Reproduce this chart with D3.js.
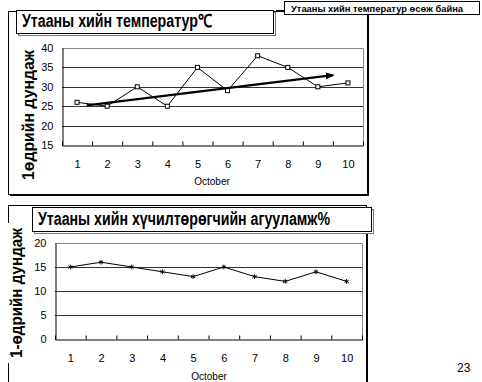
<!DOCTYPE html>
<html>
<head>
<meta charset="utf-8">
<script src="https://cdn.jsdelivr.net/npm/d3@7"></script>
<style>
  body { margin: 0; background: #fff; }
  svg { display: block; font-family: "Liberation Sans", Arial, sans-serif; }
</style>
</head>
<body>
<svg width="482" height="382"></svg>
<script>
var days = [1, 2, 3, 4, 5, 6, 7, 8, 9, 10];
var temperature = [26, 25, 30, 25, 35, 29, 38, 35, 30, 31];
var oxygen = [15, 16, 15, 14, 13, 15, 13, 12, 14, 12];
var tempTicks = [15, 20, 25, 30, 35, 40];
var oxyTicks = [0, 5, 10, 15, 20];
// hand-drawn trend arrow (day, value)
var trendFrom = [1.32, 25.2];
var trendTo = [9.5, 33.0];

var svg = d3.select('svg');

svg.append('defs').append('marker')
    .attr('id', 'arrow')
    .attr('viewBox', '0 0 10 10')
    .attr('refX', 8).attr('refY', 5)
    .attr('markerWidth', 4).attr('markerHeight', 4)
    .attr('orient', 'auto')
  .append('path')
    .attr('d', 'M0,1 L10,5 L0,9 Z')
    .attr('fill', '#000');

function frame(x0, y0, x1, y1) {
  svg.append('rect')
      .attr('x', x0 + 0.5).attr('y', y0 + 0.5)
      .attr('width', x1 - x0).attr('height', y1 - y0)
      .attr('fill', '#fff').attr('stroke', '#000');
  svg.append('path')
      .attr('d', 'M' + (x1 + 1.5) + ',' + (y0 + 2) + 'V' + (y1 + 1.5) + 'H' + (x0 + 2))
      .attr('fill', 'none').attr('stroke', '#000');
}

function titleBox(x0, y0, x1, y1, label, size, len) {
  svg.append('rect')
      .attr('x', x0 + 2.5).attr('y', y0 + 2.5)
      .attr('width', x1 - x0).attr('height', y1 - y0)
      .attr('fill', '#fff').attr('stroke', '#777');
  svg.append('rect')
      .attr('x', x0 + 0.5).attr('y', y0 + 0.5)
      .attr('width', x1 - x0).attr('height', y1 - y0)
      .attr('fill', '#fff').attr('stroke', '#000');
  svg.append('text')
      .attr('x', x0 + 6).attr('y', y1 - 6)
      .attr('font-size', size).attr('font-weight', 'bold')
      .attr('textLength', len).attr('lengthAdjust', 'spacingAndGlyphs')
      .text(label);
}

function panel(opt) {
  var x = d3.scaleLinear().domain([0.5, 10.5]).range([opt.left, opt.right]);
  var y = d3.scaleLinear().domain(opt.yDomain).range([opt.bottom, opt.top]);
  var g = svg.append('g');

  // plot border (top/right grey)
  g.append('path')
      .attr('d', 'M' + opt.left + ',' + (opt.top + 0.5) + 'H' + (opt.right + 0.5) + 'V' + opt.bottom)
      .attr('fill', 'none').attr('stroke', '#888');

  // gridlines
  g.selectAll('.grid')
    .data(opt.yTicks.slice(1, -1))
    .enter().append('line')
      .attr('x1', opt.left).attr('x2', opt.right)
      .attr('y1', d => Math.round(y(d)) + 0.5).attr('y2', d => Math.round(y(d)) + 0.5)
      .attr('stroke', '#333');

  // y axis
  g.append('g')
      .attr('transform', 'translate(' + (opt.left + 0.5) + ',0)')
      .call(d3.axisLeft(y).tickValues(opt.yTicks).tickSize(0).tickPadding(9))
      .call(a => a.select('.domain').attr('stroke', '#000'))
      .call(a => a.selectAll('text').attr('font-size', 11).attr('font-family', 'Liberation Sans, Arial, sans-serif').attr('fill', '#000'));

  // x axis: inner ticks at category boundaries
  g.append('g')
      .attr('transform', 'translate(0,' + (opt.bottom + 0.5) + ')')
      .call(d3.axisBottom(x).tickValues(d3.range(1.5, 10.5, 1)).tickSize(-4).tickFormat(''))
      .call(a => a.select('.domain').attr('stroke', '#000'))
      .call(a => a.selectAll('line').attr('stroke', '#000'));

  g.append('g')
      .attr('transform', 'translate(0,' + (opt.bottom + 0.5) + ')')
      .call(d3.axisBottom(x).tickValues(days).tickSize(0).tickPadding(opt.xPad).tickFormat(d3.format('d')))
      .call(a => a.select('.domain').remove())
      .call(a => a.selectAll('text').attr('font-size', 11).attr('font-family', 'Liberation Sans, Arial, sans-serif').attr('fill', '#000'));

  g.append('text')
      .attr('x', opt.xTitleX).attr('y', opt.xTitleY)
      .attr('text-anchor', 'middle').attr('font-size', 10)
      .text('October');

  // y title
  if (opt.yTitleBg) {
    g.append('rect')
        .attr('x', opt.yTitleX - 9).attr('y', opt.yTitleY - 70)
        .attr('width', 17).attr('height', 140)
        .attr('fill', '#fff');
  }
  g.append('text')
      .attr('transform', 'translate(' + opt.yTitleX + ',' + opt.yTitleY + ') rotate(-90)')
      .attr('text-anchor', 'middle').attr('dy', '0.35em')
      .attr('font-size', 16).attr('font-weight', 'bold')
      .attr('textLength', 130).attr('lengthAdjust', 'spacingAndGlyphs')
      .text(opt.yTitle);

  // series
  var line = d3.line().x((d, i) => x(days[i])).y(d => y(d));
  g.append('path')
      .datum(opt.values)
      .attr('d', line)
      .attr('fill', 'none').attr('stroke', '#000').attr('stroke-width', 1);

  return {g: g, x: x, y: y};
}

// ---- top chart ----
frame(8, 11, 367, 194);

var tempChart = panel({
  left: 62, right: 363, top: 48, bottom: 145,
  yDomain: [15, 40], yTicks: tempTicks,
  xPad: 15, xTitleX: 212, xTitleY: 185,
  yTitle: '1өдрийн дундаж', yTitleX: 28, yTitleY: 115,
  values: temperature
});

tempChart.g.append('line')
    .attr('x1', tempChart.x(trendFrom[0])).attr('y1', tempChart.y(trendFrom[1]))
    .attr('x2', tempChart.x(trendTo[0])).attr('y2', tempChart.y(trendTo[1]))
    .attr('stroke', '#000').attr('stroke-width', 2.2)
    .attr('marker-end', 'url(#arrow)');

tempChart.g.selectAll('.sq')
  .data(temperature)
  .enter().append('rect')
    .attr('x', (d, i) => tempChart.x(days[i]) - 2)
    .attr('y', d => tempChart.y(d) - 2)
    .attr('width', 4).attr('height', 4)
    .attr('fill', '#fff').attr('stroke', '#000').attr('stroke-width', 1);

titleBox(16, 10, 273, 33, 'Утааны хийн температур℃', 18, 190);

// callout label
svg.append('line')
    .attr('x1', 276).attr('x2', 284).attr('y1', 10.5).attr('y2', 10.5)
    .attr('stroke', '#000');
svg.append('rect')
    .attr('x', 284.5).attr('y', 1.5).attr('width', 195).attr('height', 13)
    .attr('fill', '#fff').attr('stroke', '#000');
svg.append('text')
    .attr('x', 291).attr('y', 11.5)
    .attr('font-size', 9.5).attr('font-weight', 'bold')
    .attr('textLength', 172).attr('lengthAdjust', 'spacingAndGlyphs')
    .text('Утааны хийн температур өсөж байна');

// ---- bottom chart ----
frame(8, 205, 366, 384);

var oxyChart = panel({
  left: 55, right: 362, top: 243, bottom: 339,
  yDomain: [0, 20], yTicks: oxyTicks,
  xPad: 15, xTitleX: 209, xTitleY: 380,
  yTitle: '1-өдрийн дундаж', yTitleX: 16, yTitleY: 293, yTitleBg: true,
  values: oxygen
});

var star = d3.symbol().type(d3.symbolAsterisk).size(16);
oxyChart.g.selectAll('.st')
  .data(oxygen)
  .enter().append('path')
    .attr('transform', (d, i) => 'translate(' + oxyChart.x(days[i]) + ',' + oxyChart.y(d) + ')')
    .attr('d', star)
    .attr('fill', 'none').attr('stroke', '#000').attr('stroke-width', 1);

titleBox(32, 207, 371, 231, 'Утааны хийн хүчилтөрөгчийн агууламж%', 18, 292);

svg.append('text')
    .attr('x', 457).attr('y', 372)
    .attr('font-size', 12)
    .text('23');
</script>
</body>
</html>
